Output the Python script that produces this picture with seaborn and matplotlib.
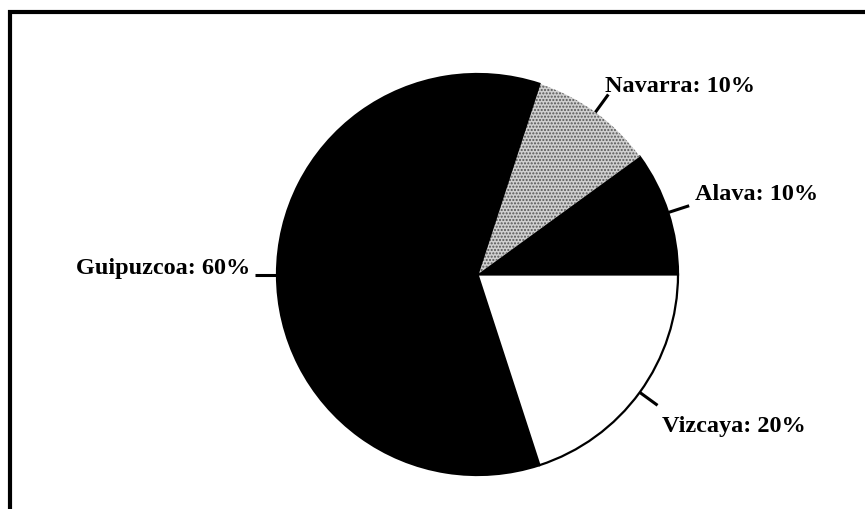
import numpy as np
import seaborn as sns
import matplotlib.pyplot as plt
from matplotlib.patches import Rectangle

sns.set_theme(style='white')
plt.rcParams['font.family'] = ['Liberation Serif', 'DejaVu Serif']
plt.rcParams['hatch.linewidth'] = 1.0

regions = ['Alava', 'Navarra', 'Guipuzcoa', 'Vizcaya']
shares = [10, 10, 60, 20]
colors = ['black', '#d0d0d0', 'black', 'white']

# label anchor positions in figure pixels (x, baseline y from bottom) and alignment
label_pos = {'Alava': (695, 309, 'left'),
             'Navarra': (605, 417, 'left'),
             'Guipuzcoa': (250, 235, 'right'),
             'Vizcaya': (662, 77, 'left')}

fig = plt.figure(figsize=(8.65, 5.09), dpi=100)
ax = fig.add_axes([277 / 865, 34 / 509, 401 / 865, 401 / 509])

wedges, _ = ax.pie(shares, colors=colors, startangle=0, counterclock=True,
                   wedgeprops=dict(edgecolor='black', linewidth=1.6))
# stippled grey for Navarra
wedges[1].set_hatch('.....')
wedges[1].set_edgecolor('#555555')
wedges[1].set_linewidth(0)
ax.set_xlim(-1, 1)
ax.set_ylim(-1, 1)
ax.set_aspect('auto')

# leader lines + labels
bounds = np.cumsum([0] + shares) / sum(shares) * 360
for i, name in enumerate(regions):
    mid = np.deg2rad((bounds[i] + bounds[i + 1]) / 2)
    ax.plot([np.cos(mid), 1.11 * np.cos(mid)], [np.sin(mid), 1.11 * np.sin(mid)],
            color='black', lw=2.2, clip_on=False, solid_capstyle='butt')
    x, y, ha = label_pos[name]
    fig.text(x / 865, y / 509, f'{name}: {shares[i]}%', ha=ha, va='baseline',
             fontsize=17.5, fontweight='bold', color='black')

# scanned frame (top and left edges visible)
fig.patches.append(Rectangle((10 / 865, -0.05), 1.0, 1.05 - 12 / 509,
                             transform=fig.transFigure, fill=False,
                             edgecolor='black', linewidth=3))

fig.savefig('out.png', dpi=100)
